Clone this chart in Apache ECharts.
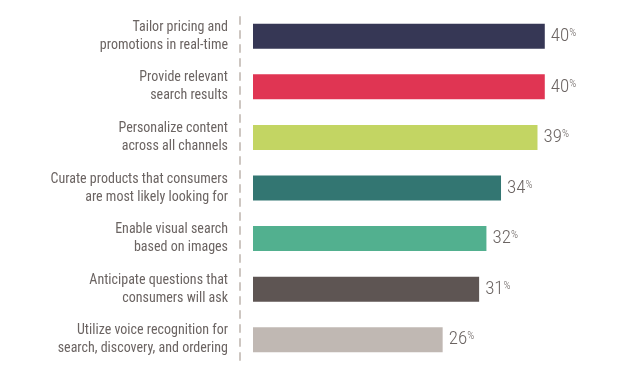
<!DOCTYPE html>
<html><head><meta charset="utf-8">
<script src="https://cdn.jsdelivr.net/npm/echarts@6/dist/echarts.min.js"></script>
<style>html,body{margin:0;padding:0;background:#fff}#c{width:617px;height:375px}</style>
</head><body><div id="c"></div>
<script>
const categories = [
  "Tailor pricing and\npromotions in real-time",
  "Provide relevant\nsearch results",
  "Personalize content\nacross all channels",
  "Curate products that consumers\nare most likely looking for",
  "Enable visual search\nbased on images",
  "Anticipate questions that\nconsumers will ask",
  "Utilize voice recognition for\nsearch, discovery, and ordering"
];
const values = [40, 40, 39, 34, 32, 31, 26];
const colors = ["#363755", "#e03553", "#c3d563", "#337672", "#52b08f", "#5e5553", "#c0b8b3"];

const FONT = "'Roboto Condensed', 'Liberation Sans', sans-serif";
const chart = echarts.init(document.getElementById('c'), null, {renderer: 'canvas'});
chart.setOption({
  animation: false,
  grid: {left: 253, right: 0, top: 11, bottom: 10, containLabel: false},
  xAxis: {type: 'value', min: 0, max: 49.9, show: false},
  yAxis: {
    type: 'category', data: categories, inverse: true, offset: 13,
    axisLine: {show: true, onZero: false, lineStyle: {color: '#cdc6c1', width: 2, type: [7, 7], dashOffset: 8}},
    axisTick: {show: false},
    axisLabel: {color: '#6b6462', fontFamily: FONT, fontSize: 14, fontWeight: 400, lineHeight: 18, margin: 12, align: 'right'}
  },
  series: [{
    type: 'bar', barWidth: 25,
    data: values.map((v, i) => ({value: v, itemStyle: {color: colors[i]}})),
    label: {
      show: true, position: 'right', distance: 6,
      formatter: p => '{n|' + p.value + '}{p|%}',
      rich: {
        n: {fontFamily: FONT, fontSize: 19, fontWeight: 300, color: '#6b6462'},
        p: {fontFamily: FONT, fontSize: 11, fontWeight: 300, color: '#6b6462', padding: [0, 0, 6, 0]}
      }
    }
  }]
});
</script></body></html>
